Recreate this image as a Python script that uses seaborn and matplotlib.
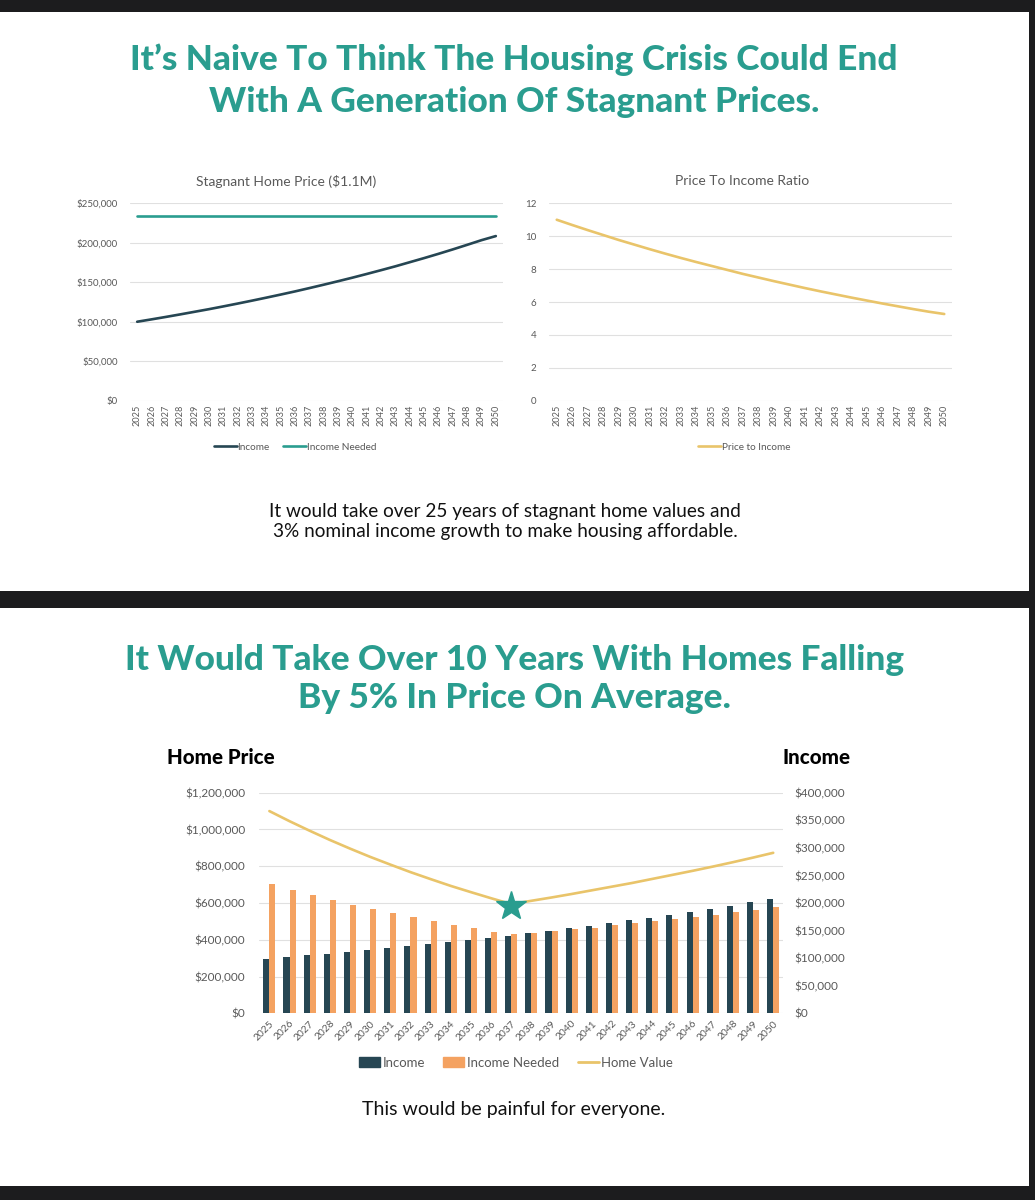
import numpy as np
import pandas as pd
import matplotlib.pyplot as plt
import matplotlib.patches as mpatches
from matplotlib.lines import Line2D
from matplotlib.ticker import FuncFormatter
import seaborn as sns

# data
years = list(range(2025, 2051))

# slide 1 - stagnant $1.1M home price
income_flat = [100000, 103000, 106100, 109300, 112600, 115900, 119400, 123000, 126700,
               130500, 134400, 138400, 142600, 146900, 151300, 155800, 160500, 165300,
               170200, 175400, 180600, 186000, 191600, 197400, 203300, 208500]
income_needed_flat = [234000, 234000, 234000, 234000, 234000, 234000, 234000, 234000,
                      234000, 234000, 234000, 234000, 234000, 234000, 234000, 234000,
                      234000, 234000, 234000, 234000, 234000, 234000, 234000, 234000,
                      234000, 234000]
price_to_income = [11.0, 10.68, 10.37, 10.07, 9.77, 9.49, 9.21, 8.94, 8.68, 8.43, 8.19,
                   7.95, 7.71, 7.49, 7.27, 7.06, 6.85, 6.65, 6.46, 6.27, 6.09, 5.91,
                   5.74, 5.57, 5.41, 5.27]

# slide 2 - homes falling 5% a year
home_value = [1100000, 1045000, 993000, 943000, 896000, 851000, 809000, 768000, 730000,
              693000, 659000, 626000, 594000, 612000, 630000, 649000, 669000, 689000,
              709000, 731000, 753000, 775000, 798000, 822000, 847000, 873000]
income = [99000, 102000, 105000, 108000, 112000, 115000, 118000, 122000, 125000, 129000,
          133000, 137000, 141000, 146000, 150000, 154000, 159000, 164000, 169000, 173000,
          179000, 184000, 190000, 195000, 201000, 207000]
income_needed = [234000, 224000, 214000, 205000, 196000, 189000, 181000, 174000, 167000,
                 161000, 154000, 148000, 143000, 146000, 149000, 152000, 155000, 160000,
                 163000, 167000, 171000, 175000, 179000, 184000, 187000, 193000]
star_year = 2037

NAVY = "#264653"
TEAL = "#2a9d8f"
YELLOW = "#e9c46a"
ORANGE = "#f4a261"
GREY = "#595959"
GRID = "#e0e0e0"

sns.set_theme(style="white")
plt.rcParams["font.family"] = ["Lato", "DejaVu Sans"]

W, H = 1035, 1200
fig = plt.figure(figsize=(W / 100, H / 100), dpi=100, facecolor="#1c1c1e")


def box(l, t, r, b):
    return [l / W, 1 - b / H, (r - l) / W, (b - t) / H]


def fx(x):
    return x / W


def fy(y):
    return 1 - y / H


# white slide backgrounds (below the axes)
for top, bot in [(12, 591), (608, 1186)]:
    fig.patches.append(mpatches.Rectangle((0, fy(bot)), fx(1029), fy(top) - fy(bot),
                                          transform=fig.transFigure, facecolor="white",
                                          edgecolor="none", zorder=-5))

idx = np.arange(len(years))
money = FuncFormatter(lambda v, p: f"${v:,.0f}")


def style_small(ax):
    sns.despine(ax=ax, left=True, bottom=True)
    ax.grid(axis="y", color=GRID, lw=0.8)
    ax.set_axisbelow(True)
    ax.set_xlim(-0.5, len(years) - 0.5)
    ax.set_xticks(idx)
    ax.set_xticklabels(years, rotation=90, fontsize=6.6, color=GREY)
    ax.tick_params(axis="x", length=0, pad=3, labelsize=6.6, labelcolor=GREY)
    ax.tick_params(axis="y", length=0, pad=9, labelsize=7, labelcolor=GREY)
    ax.set_xlabel("")
    ax.set_ylabel("")


# ---- slide 1 ----
fig.text(fx(514), fy(60), "It\u2019s Naive To Think The Housing Crisis Could End",
         ha="center", va="center", fontsize=25.4, fontweight="black", color=TEAL)
fig.text(fx(514), fy(102), "With A Generation Of Stagnant Prices.",
         ha="center", va="center", fontsize=25.4, fontweight="black", color=TEAL)

ax1 = fig.add_axes(box(130, 203.3, 503, 400.7))
sns.lineplot(x=idx, y=income_flat, ax=ax1, color=NAVY, lw=1.9, label="Income")
sns.lineplot(x=idx, y=income_needed_flat, ax=ax1, color=TEAL, lw=1.9, label="Income Needed")
ax1.set_ylim(0, 250000)
ax1.set_yticks(np.arange(0, 250001, 50000))
ax1.yaxis.set_major_formatter(money)
style_small(ax1)
fig.text(fx(286), fy(181), "Stagnant Home Price ($1.1M)", ha="center", va="center",
         fontsize=10, color=GREY)
ax1.legend(loc="center", bbox_to_anchor=(fx(295), fy(447)), bbox_transform=fig.transFigure,
           ncol=2, frameon=False, fontsize=7.2, labelcolor=GREY, handlelength=2.3,
           handletextpad=0.1, columnspacing=1.3)

ax2 = fig.add_axes(box(549, 203.3, 952, 400.7))
sns.lineplot(x=idx, y=price_to_income, ax=ax2, color=YELLOW, lw=1.9, label="Price to Income")
ax2.set_ylim(0, 12)
ax2.set_yticks(np.arange(0, 13, 2))
style_small(ax2)
fig.text(fx(742), fy(181), "Price To Income Ratio", ha="center", va="center",
         fontsize=10, color=GREY)
ax2.legend(loc="center", bbox_to_anchor=(fx(744), fy(447)), bbox_transform=fig.transFigure,
           frameon=False, fontsize=7.2, labelcolor=GREY, handlelength=2.3, handletextpad=0.1)

fig.text(fx(505), fy(511), "It would take over 25 years of stagnant home values and",
         ha="center", va="center", fontsize=13.7, color="#111111")
fig.text(fx(505), fy(532), "3% nominal income growth to make housing affordable.",
         ha="center", va="center", fontsize=13.7, color="#111111")

# ---- slide 2 ----
fig.text(fx(515), fy(660), "It Would Take Over 10 Years With Homes Falling",
         ha="center", va="center", fontsize=25.4, fontweight="black", color=TEAL)
fig.text(fx(515), fy(698), "By 5% In Price On Average.",
         ha="center", va="center", fontsize=25.4, fontweight="black", color=TEAL)

ax3 = fig.add_axes(box(259.3, 792.7, 783.3, 1013.3))
ax4 = ax3.twinx()

bars = pd.DataFrame({
    "year": [str(y) for y in years] * 2,
    "value": income + income_needed,
    "series": ["Income"] * len(years) + ["Income Needed"] * len(years),
})
sns.barplot(data=bars, x="year", y="value", hue="series", ax=ax4, width=0.6,
            palette={"Income": NAVY, "Income Needed": ORANGE}, saturation=1,
            linewidth=0, legend=False)
sns.lineplot(x=idx, y=home_value, ax=ax3, color=YELLOW, lw=1.9)
si = years.index(star_year)
ax3.plot(si, home_value[si] - 12000, marker="*", markersize=22, color=TEAL, zorder=5)

ax3.set_ylim(0, 1200000)
ax3.set_yticks(np.arange(0, 1200001, 200000))
ax3.yaxis.set_major_formatter(money)
ax4.set_ylim(0, 400000)
ax4.set_yticks(np.arange(0, 400001, 50000))
ax4.yaxis.set_major_formatter(money)
for a in (ax3, ax4):
    sns.despine(ax=a, left=True, bottom=True, right=True)
    a.set_xlabel("")
    a.set_ylabel("")
    a.tick_params(axis="both", length=0, labelsize=8.5, labelcolor=GREY)
ax3.tick_params(axis="y", pad=10)
ax4.tick_params(axis="y", pad=8)
ax3.grid(axis="y", color=GRID, lw=0.8)
ax4.grid(False)
ax3.set_axisbelow(True)
ax3.set_xlim(-0.5, len(years) - 0.5)
ax3.set_xticks(idx)
ax3.set_xticklabels(years, rotation=45, ha="right", rotation_mode="anchor",
                    fontsize=7.4, color=GREY)
ax3.tick_params(axis="x", pad=4)

fig.text(fx(167), fy(758), "Home Price", ha="left", va="center", fontsize=14.8,
         fontweight="black", color="black")
fig.text(fx(850), fy(758), "Income", ha="right", va="center", fontsize=14.8,
         fontweight="black", color="black")

handles = [mpatches.Patch(color=NAVY, label="Income"),
           mpatches.Patch(color=ORANGE, label="Income Needed"),
           Line2D([], [], color=YELLOW, lw=2, label="Home Value")]
fig.legend(handles=handles, loc="center", bbox_to_anchor=(fx(516), fy(1063)),
           ncol=3, frameon=False, fontsize=9.5, labelcolor=GREY, handlelength=1.6,
           handleheight=0.8, handletextpad=0.2, columnspacing=1.4)

fig.text(fx(514), fy(1110), "This would be painful for everyone.",
         ha="center", va="center", fontsize=14, color="#111111")

fig.savefig("out.png", dpi=100, facecolor=fig.get_facecolor())
